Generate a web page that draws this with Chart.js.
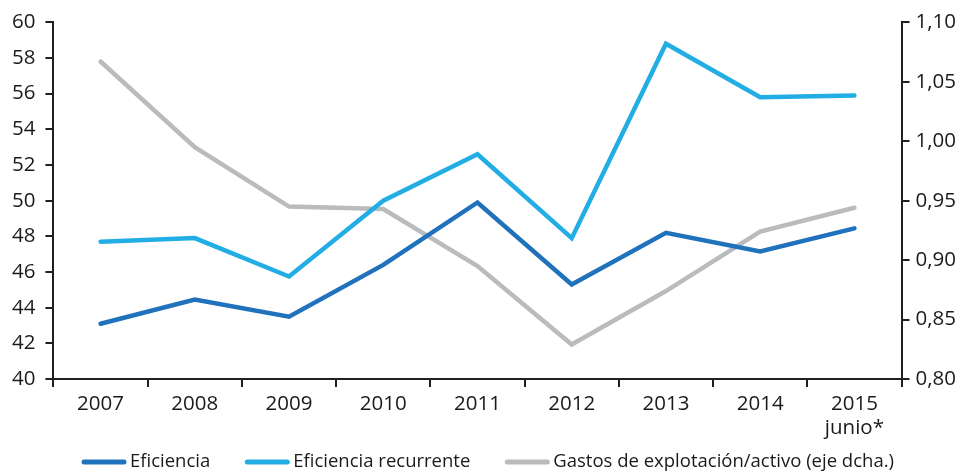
<!DOCTYPE html>
<html>
<head>
<meta charset="utf-8">
<script src="https://cdn.jsdelivr.net/npm/chart.js@4.4.1/dist/chart.umd.min.js"></script>
<style>
  html, body { margin: 0; padding: 0; background: #fff; }
  #wrap { width: 963px; height: 474px; }
</style>
</head>
<body>
<div id="wrap"><canvas id="chart" width="963" height="474"></canvas></div>
<script>
// categorías y series
const years = ['2007', '2008', '2009', '2010', '2011', '2012', '2013', '2014', ['2015', 'junio*']];
const eficiencia = [43.1, 44.45, 43.5, 46.4, 49.9, 45.3, 48.2, 47.15, 48.45];
const eficienciaRecurrente = [47.7, 47.9, 45.75, 50.0, 52.6, 47.9, 58.8, 55.8, 55.9];
const gastosActivo = [1.067, 0.995, 0.945, 0.943, 0.895, 0.829, 0.874, 0.924, 0.944];

const axisColor = '#231f20';
const textColor = '#1a1a1a';
const fontFamily = "'Open Sans', 'Noto Sans', sans-serif";

const mkLine = (label, data, color, axis) => ({
    label,
    data,
    yAxisID: axis,
    borderColor: color,
    backgroundColor: color,
    borderWidth: 4.5,
    pointRadius: 0,
    tension: 0,
    fill: false,
    borderCapStyle: 'round',
    borderJoinStyle: 'miter'
});

// leyenda propia: línea larga + texto, centrada abajo
const bottomLegend = {
    id: 'bottomLegend',
    afterDraw(chart) {
        const ctx = chart.ctx;
        const lineW = 44, gapText = 4, gapItem = 35, y = 462;
        ctx.save();
        ctx.font = `18.5px ${fontFamily}`;
        ctx.textBaseline = 'middle';
        const items = chart.data.datasets.map(ds => ({
            label: ds.label, color: ds.borderColor, w: ctx.measureText(ds.label).width
        }));
        const total = items.reduce((s, it) => s + lineW + gapText + it.w, 0) + gapItem * (items.length - 1);
        let x = 488 - total / 2;
        items.forEach(it => {
            ctx.strokeStyle = it.color;
            ctx.lineWidth = 5;
            ctx.lineCap = 'round';
            ctx.beginPath();
            ctx.moveTo(x + 2, y);
            ctx.lineTo(x + lineW - 2, y);
            ctx.stroke();
            ctx.fillStyle = textColor;
            ctx.fillText(it.label, x + lineW + gapText, y);
            x += lineW + gapText + it.w + gapItem;
        });
        ctx.restore();
    }
};

new Chart(document.getElementById('chart').getContext('2d'), {
    type: 'line',
    data: {
        labels: years,
        datasets: [
            mkLine('Eficiencia', eficiencia, '#1f72bb', 'y'),
            mkLine('Eficiencia recurrente', eficienciaRecurrente, '#22aee4', 'y'),
            mkLine('Gastos de explotación/activo (eje dcha.)', gastosActivo, '#b9bbbd', 'y1')
        ]
    },
    plugins: [bottomLegend],
    options: {
        responsive: false,
        animation: false,
        layout: { padding: { top: 19, left: 2, right: 1, bottom: 29 } },
        plugins: {
            tooltip: { enabled: false },
            legend: { display: false }
        },
        scales: {
            x: {
                offset: true,
                border: { display: true, color: axisColor, width: 2 },
                grid: { display: true, offset: true, drawOnChartArea: false, drawTicks: true, tickLength: 8, color: axisColor, lineWidth: 2 },
                ticks: { color: textColor, font: { family: fontFamily, size: 20.5, lineHeight: 1.17 }, padding: 5, maxRotation: 0, autoSkip: false }
            },
            y: {
                position: 'left',
                min: 40,
                max: 60,
                border: { display: true, color: axisColor, width: 2 },
                grid: { display: true, drawOnChartArea: false, drawTicks: true, tickLength: 8, color: axisColor, lineWidth: 2 },
                ticks: { stepSize: 2, color: textColor, font: { family: fontFamily, size: 20.5 }, padding: 10 }
            },
            y1: {
                position: 'right',
                min: 0.8,
                max: 1.1,
                border: { display: true, color: axisColor, width: 2 },
                grid: { display: true, drawOnChartArea: false, drawTicks: true, tickLength: 8, color: axisColor, lineWidth: 2 },
                ticks: {
                    stepSize: 0.05,
                    color: textColor,
                    font: { family: fontFamily, size: 20.5 },
                    padding: 6,
                    callback: v => v.toFixed(2).replace('.', ',')
                }
            }
        }
    }
});
</script>
</body>
</html>
